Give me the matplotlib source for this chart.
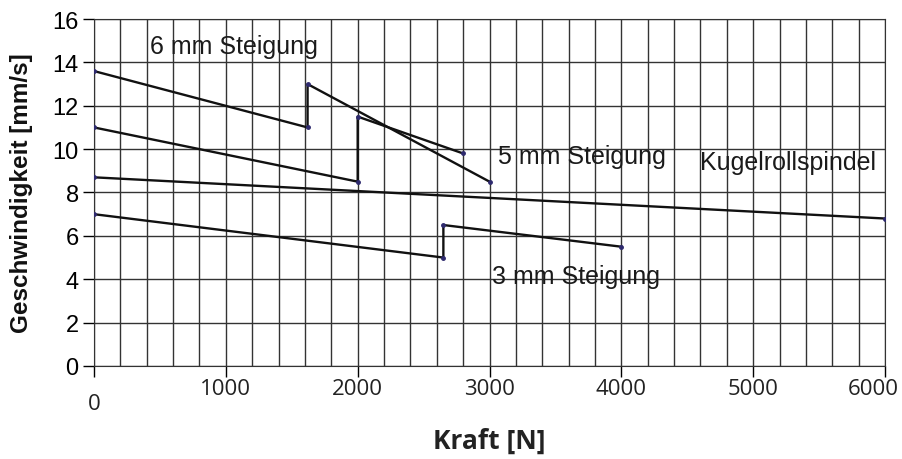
import numpy as np
import matplotlib.pyplot as plt
import matplotlib.transforms as mtransforms

# Daten (Kraft in N, Geschwindigkeit in mm/s)
kraft_6mm = [0, 1620, 1620, 3000]
v_6mm = [13.6, 11.0, 13.0, 8.5]

kraft_5mm = [0, 2000, 2000, 2800]
v_5mm = [11.0, 8.5, 11.5, 9.8]

kraft_kugel = [0, 6000]
v_kugel = [8.7, 6.8]

kraft_3mm = [0, 2650, 2650, 4000]
v_3mm = [7.0, 5.0, 6.5, 5.5]

x_ticks = [0, 1000, 2000, 3000, 4000, 5000, 6000]
y_ticks = [0, 2, 4, 6, 8, 10, 12, 14, 16]

fig = plt.figure(figsize=(9.02, 4.6), dpi=100)
ax = fig.add_axes([0.1042, 0.2022, 0.877, 0.7543])

for xs, ys in [(kraft_6mm, v_6mm), (kraft_5mm, v_5mm), (kraft_kugel, v_kugel), (kraft_3mm, v_3mm)]:
    ax.plot(xs, ys, color='#111111', lw=1.7, zorder=3)
    ax.plot(xs, ys, ls='none', marker='o', ms=2.5, color='#2e2a6e', zorder=4)

# Gitter
for xv in np.arange(0, 6001, 200):
    ax.axvline(xv, color='#333333', lw=1.0, zorder=1)
for yv in y_ticks:
    ax.axhline(yv, color='#333333', lw=1.0, zorder=1)

ax.set_xlim(0, 6000)
ax.set_ylim(0, 16)
ax.set_xticks(x_ticks)
ax.set_yticks(y_ticks)
ax.set_xticklabels([str(v) for v in x_ticks], family='Open Sans', fontsize=16, color='#222222')
ax.set_yticklabels([str(v) for v in y_ticks], family='Liberation Sans', fontsize=17)
ax.tick_params(axis='x', length=8, width=1, direction='out', pad=1)
ax.tick_params(axis='y', length=8, width=1, direction='out', pad=3)
xl = ax.get_xticklabels()
xl[0].set_transform(xl[0].get_transform() + mtransforms.ScaledTranslation(0, -0.15, fig.dpi_scale_trans))
xl[-1].set_transform(xl[-1].get_transform() + mtransforms.ScaledTranslation(-0.12, 0, fig.dpi_scale_trans))
for s in ax.spines.values():
    s.set_color('#333333')

ax.set_xlabel('Kraft [N]', family='Open Sans', fontweight='bold', fontsize=19, color='#222222')
ax.xaxis.set_label_coords(0.5, -0.175)
ax.set_ylabel('Geschwindigkeit [mm/s]', family='Liberation Sans', fontweight='bold', fontsize=17.5, color='#111111')
ax.yaxis.set_label_coords(-0.077, 0.5)

tkw = dict(family='Liberation Sans', fontsize=18, va='center', ha='left', color='#1a1a1a', zorder=5)
ax.text(425, 14.75, '6 mm Steigung', **tkw)
ax.text(3065, 9.7, '5 mm Steigung', **tkw)
ax.text(4598, 9.4, 'Kugelrollspindel', **tkw)
ax.text(3020, 4.15, '3 mm Steigung', **tkw)

plt.savefig('out.png', dpi=100)
